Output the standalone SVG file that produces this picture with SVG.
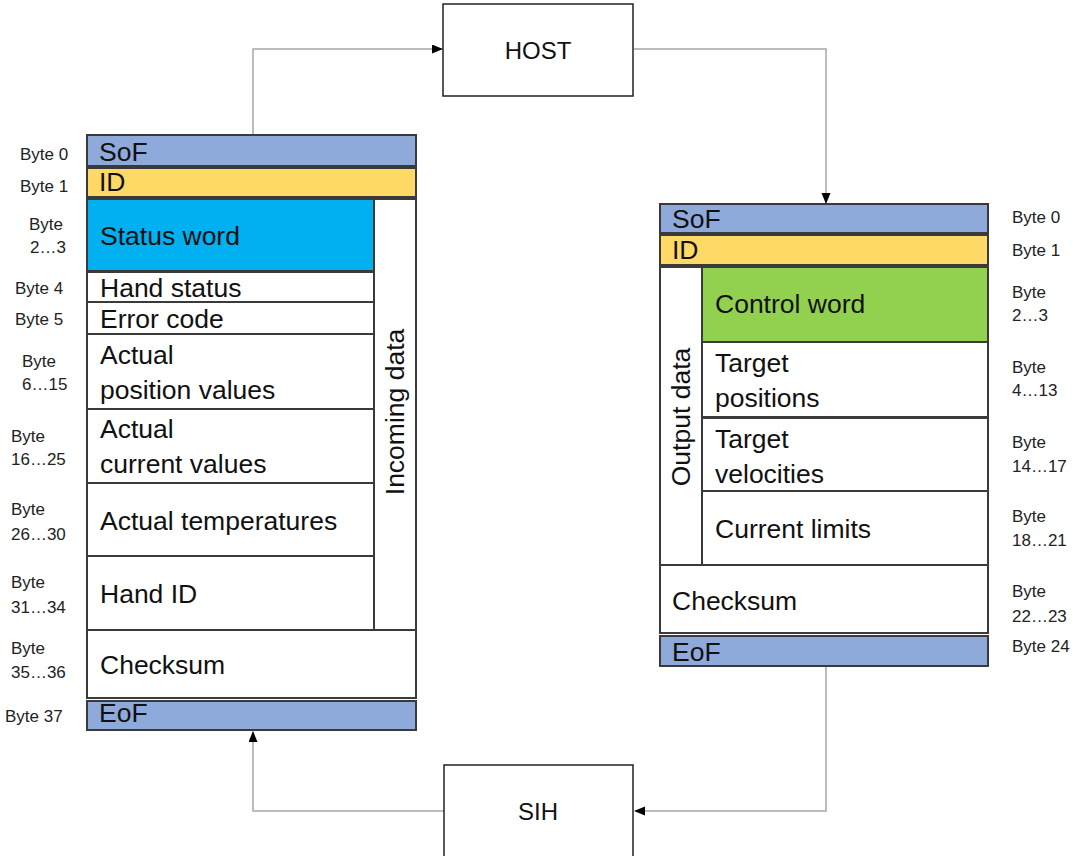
<svg xmlns="http://www.w3.org/2000/svg" width="1073" height="856" viewBox="0 0 1073 856">
<defs>
<marker id="arr" markerUnits="userSpaceOnUse" markerWidth="11" markerHeight="10" refX="10" refY="4.5" orient="auto">
<path d="M0,0 L11,4.5 L0,9 z" fill="#000"/>
</marker>
<style>
.cell{fill:#fff;stroke:#3a3a3a;stroke-width:2}
.sof{fill:#8eaadb;stroke:#3a3a3a;stroke-width:2}
.id{fill:#ffd966;stroke:#3a3a3a;stroke-width:2}
.blue{fill:#00b0f0;stroke:#3a3a3a;stroke-width:2}
.green{fill:#92d050;stroke:#3a3a3a;stroke-width:2}
.box{fill:#fff;stroke:#222;stroke-width:1.5}
.t{font-family:"Liberation Sans",Arial,sans-serif;font-size:26.5px;fill:#111}
.b{font-family:"Liberation Sans",Arial,sans-serif;font-size:17px;fill:#222}
.h{font-family:"Liberation Sans",Arial,sans-serif;font-size:24px;fill:#111}
.c{fill:none;stroke:#a6a6a6;stroke-width:1.5}
</style>
</defs>
<rect width="1073" height="856" fill="#fff"/>

<g id="connectors">
<path class="c" d="M253 135 V49 H442" marker-end="url(#arr)"/>
<path class="c" d="M634 49 H826 V203" marker-end="url(#arr)"/>
<path class="c" d="M826 667 V811 H635" marker-end="url(#arr)"/>
<path class="c" d="M444 811 H253 V732" marker-end="url(#arr)"/>
</g>

<g id="host">
<rect class="box" x="443" y="4" width="190" height="92"/>
<text class="h" x="538" y="59" text-anchor="middle">HOST</text>
</g>
<g id="sih">
<rect class="box" x="444" y="765" width="189" height="92"/>
<text class="h" x="538" y="820" text-anchor="middle">SIH</text>
</g>

<g id="incoming-frame">
<rect class="sof" x="87" y="135" width="329" height="31"/>
<text class="t" x="99" y="161">SoF</text>
<rect class="id" x="87" y="168" width="329" height="29"/>
<text class="t" x="99" y="191">ID</text>
<rect class="cell" x="374" y="199" width="42" height="431"/>
<text class="t" transform="translate(404 412) rotate(-90)" text-anchor="middle">Incoming data</text>
<rect class="blue" x="87" y="199" width="287" height="72"/>
<text class="t" x="100" y="245">Status word</text>
<rect class="cell" x="87" y="272" width="287" height="30"/>
<text class="t" x="100" y="297">Hand status</text>
<rect class="cell" x="87" y="302" width="287" height="32"/>
<text class="t" x="100" y="328">Error code</text>
<rect class="cell" x="87" y="334" width="287" height="75"/>
<text class="t" x="100" y="364">Actual</text>
<text class="t" x="100" y="399">position values</text>
<rect class="cell" x="87" y="409" width="287" height="74"/>
<text class="t" x="100" y="438">Actual</text>
<text class="t" x="100" y="473">current values</text>
<rect class="cell" x="87" y="483" width="287" height="73"/>
<text class="t" x="100" y="530">Actual temperatures</text>
<rect class="cell" x="87" y="556" width="287" height="74"/>
<text class="t" x="100" y="603">Hand ID</text>
<rect class="cell" x="87" y="630" width="329" height="68"/>
<text class="t" x="100" y="674">Checksum</text>
<rect class="sof" x="87" y="701" width="329" height="29"/>
<text class="t" x="99" y="722">EoF</text>
</g>

<g id="incoming-bytes">
<text class="b" x="20" y="160">Byte 0</text>
<text class="b" x="20" y="192">Byte 1</text>
<text class="b" x="29" y="230">Byte</text>
<text class="b" x="30" y="253">2…3</text>
<text class="b" x="15" y="294">Byte 4</text>
<text class="b" x="15" y="325">Byte 5</text>
<text class="b" x="22" y="367">Byte</text>
<text class="b" x="22" y="390">6…15</text>
<text class="b" x="11" y="442">Byte</text>
<text class="b" x="11" y="465">16…25</text>
<text class="b" x="11" y="515">Byte</text>
<text class="b" x="11" y="540">26…30</text>
<text class="b" x="11" y="588">Byte</text>
<text class="b" x="11" y="613">31…34</text>
<text class="b" x="11" y="654">Byte</text>
<text class="b" x="11" y="678">35…36</text>
<text class="b" x="5" y="722">Byte 37</text>
</g>

<g id="output-frame">
<rect class="sof" x="660" y="204" width="328" height="29"/>
<text class="t" x="672" y="228">SoF</text>
<rect class="id" x="660" y="235" width="328" height="30"/>
<text class="t" x="672" y="259">ID</text>
<rect class="cell" x="660" y="267" width="42" height="298"/>
<text class="t" transform="translate(690 417) rotate(-90)" text-anchor="middle">Output data</text>
<rect class="green" x="702" y="267" width="286" height="75"/>
<text class="t" x="715" y="313">Control word</text>
<rect class="cell" x="702" y="342" width="286" height="75"/>
<text class="t" x="715" y="372">Target</text>
<text class="t" x="715" y="407">positions</text>
<rect class="cell" x="702" y="418" width="286" height="73"/>
<text class="t" x="715" y="448">Target</text>
<text class="t" x="715" y="483">velocities</text>
<rect class="cell" x="702" y="491" width="286" height="74"/>
<text class="t" x="715" y="538">Current limits</text>
<rect class="cell" x="660" y="565" width="328" height="68"/>
<text class="t" x="672" y="610">Checksum</text>
<rect class="sof" x="660" y="636" width="328" height="30"/>
<text class="t" x="672" y="661">EoF</text>
</g>

<g id="output-bytes">
<text class="b" x="1012" y="223">Byte 0</text>
<text class="b" x="1012" y="256">Byte 1</text>
<text class="b" x="1012" y="298">Byte</text>
<text class="b" x="1012" y="321">2…3</text>
<text class="b" x="1012" y="373">Byte</text>
<text class="b" x="1012" y="396">4…13</text>
<text class="b" x="1012" y="448">Byte</text>
<text class="b" x="1012" y="472">14…17</text>
<text class="b" x="1012" y="522">Byte</text>
<text class="b" x="1012" y="546">18…21</text>
<text class="b" x="1012" y="597">Byte</text>
<text class="b" x="1012" y="622">22…23</text>
<text class="b" x="1012" y="652">Byte 24</text>
</g>
</svg>
